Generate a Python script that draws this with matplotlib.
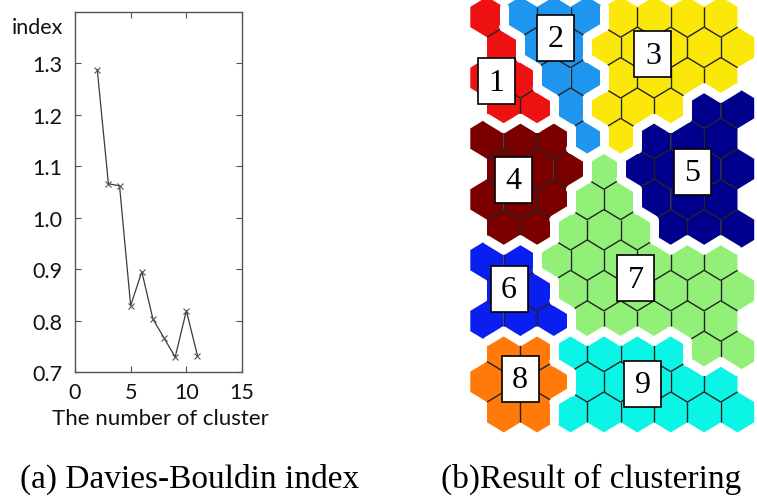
import matplotlib
matplotlib.use('Agg')
import matplotlib.pyplot as plt
from matplotlib.patches import Polygon, Rectangle
from matplotlib.collections import LineCollection

# (a) Davies-Bouldin index against the number of clusters
n_clusters = [2, 3, 4, 5, 6, 7, 8, 9, 10, 11]
db_index = [1.288, 1.066, 1.062, 0.829, 0.895, 0.803, 0.766, 0.729, 0.819, 0.732]
x_ticks = [0, 5, 10, 15]
y_ticks = [0.7, 0.8, 0.9, 1.0, 1.1, 1.2, 1.3]

# (b) SOM map: 14 rows x 8 columns, odd rows shifted right by half a cell
som_rows = [
    "12223333",
    "12233333",
    "11223333",
    "11233355",
    "44423555",
    "44475555",
    "44477555",
    "44777555",
    "66777777",
    "66777777",
    "66677777",
    "88999977",
    "88899999",
    "88999999",
]
cluster_colors = {
    '1': '#ee1111', '2': '#1e96f0', '3': '#fbe80a',
    '4': '#7a0000', '5': '#00008c', '6': '#0a1ef0',
    '7': '#92f078', '8': '#ff7a0a', '9': '#0af5e6',
}
# label boxes, centre in cell units (column, row)
label_names = ['1', '2', '3', '4', '5', '6', '7', '8', '9']
label_col = [0.27, 2.04, 4.97, 0.78, 6.14, 0.66, 4.46, 0.99, 4.67]
label_row = [2.11, 0.69, 1.22, 5.36, 5.10, 8.95, 8.59, 11.91, 12.07]

W, H = 757, 502
fig = plt.figure(figsize=(W / 100, H / 100), dpi=100)
fig.patch.set_facecolor('white')

sans = ['Lato', 'DejaVu Sans']
serif = ['Liberation Serif', 'DejaVu Serif']

# ---- left panel ----
ax = fig.add_axes([75 / W, 1 - 373 / H, 167 / W, 360 / H])
ax.plot(n_clusters, db_index, color='#3a3a3a', lw=0.9, marker='x', ms=4,
        mew=0.8, mec='#555555')
ax.set_xlim(0, 15)
ax.set_ylim(0.7, 1.4)
ax.set_xticks(x_ticks)
ax.set_yticks(y_ticks)
ax.set_yticklabels([f'{v:.1f}' for v in y_ticks])
ax.tick_params(direction='in', length=4, top=True, right=True, width=0.8,
               color='#555555', labelcolor='#111111', labelsize=15.5)
ax.tick_params(axis='y', pad=9)
ax.tick_params(axis='x', pad=7)
for lab in ax.get_xticklabels() + ax.get_yticklabels():
    lab.set_family(sans)
for sp in ax.spines.values():
    sp.set_color('#555555')
    sp.set_linewidth(1.0)

fig.text(12 / W, 1 - 28 / H, 'index', family=sans, fontsize=15.5,
         color='#111111', ha='left', va='center')
fig.text(160 / W, 1 - 419 / H, 'The number of cluster', family=sans,
         fontsize=16, color='#111111', ha='center', va='center')

# ---- right panel: hexagonal SOM ----
px_col, px_row = 33.4, 30.4      # pixel pitch of a cell
org_x, org_y = 487, 18           # pixel centre of cell (0, 0)
box = (462, 0, 757, 440)         # axes area in pixels
mx = fig.add_axes([box[0] / W, 1 - box[3] / H, (box[2] - box[0]) / W,
                   (box[3] - box[1]) / H])
mx.set_xlim((box[0] - org_x) / px_col, (box[2] - org_x) / px_col)
mx.set_ylim((box[3] - org_y) / px_row, (box[1] - org_y) / px_row)
mx.axis('off')

hex_v = [(0, -2 / 3), (0.5, -1 / 3), (0.5, 1 / 3), (0, 2 / 3),
         (-0.5, 1 / 3), (-0.5, -1 / 3)]

cells = {}
for r, line in enumerate(som_rows):
    for c, lab in enumerate(line):
        cells[(2 * c + r % 2, r)] = lab

inner, border = [], []
for (kx, r), lab in cells.items():
    cx = kx / 2
    mx.add_patch(Polygon([(cx + vx, r + vy) for vx, vy in hex_v], closed=True,
                         fc=cluster_colors[lab], ec='none', zorder=1))
    for k in range(6):
        (x1, y1), (x2, y2) = hex_v[k], hex_v[(k + 1) % 6]
        mxm, mym = (x1 + x2) / 2, (y1 + y2) / 2
        nb = (kx + round(4 * mxm), r + round(2 * mym))
        if nb not in cells or nb < (kx, r):
            continue
        seg = [(cx + x1, r + y1), (cx + x2, r + y2)]
        if cells[nb] == lab:
            inner.append(seg)
        else:
            border.append(seg)

mx.add_collection(LineCollection(inner, colors='#222222', linewidths=1.0,
                                 zorder=2))
mx.add_collection(LineCollection(border, colors='white', linewidths=6.5,
                                 capstyle='round', zorder=3))

bw, bh = 37 / px_col, 46 / px_row
for name, c, r in zip(label_names, label_col, label_row):
    mx.add_patch(Rectangle((c - bw / 2, r - bh / 2), bw, bh, fc='white',
                           ec='black', lw=1.2, zorder=4))
    mx.text(c, r + 0.03, name, family=serif, fontsize=23, ha='center',
            va='center', zorder=5)

# captions
fig.text(190 / W, 1 - 479 / H, '(a) Davies-Bouldin index', family=serif,
         fontsize=24, ha='center', va='center')
fig.text(591 / W, 1 - 479 / H, '(b)Result of clustering', family=serif,
         fontsize=24, ha='center', va='center')

fig.savefig('out.png', dpi=100, facecolor='white')
